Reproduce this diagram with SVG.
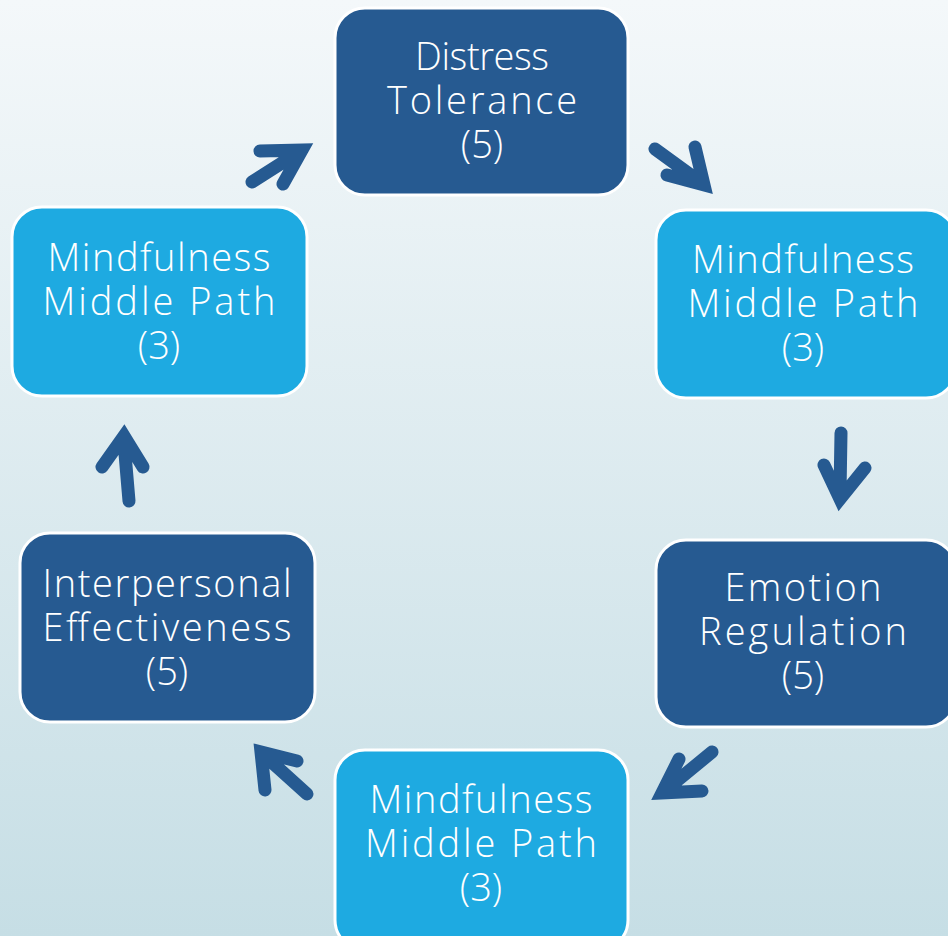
<svg xmlns="http://www.w3.org/2000/svg" width="948" height="936" viewBox="0 0 948 936">
<defs>
<linearGradient id="bg" x1="0" y1="0" x2="0" y2="1">
<stop offset="0" stop-color="#F4F8FA"/>
<stop offset="1" stop-color="#C6DEE5"/>
</linearGradient>
<style>
.dark{fill:#265A91;stroke:#FFFFFF;stroke-width:3}
.light{fill:#1EAAE1;stroke:#FFFFFF;stroke-width:3}
.t{font-family:"Open Sans","DejaVu Sans",sans-serif;font-weight:300;font-size:38px;fill:#FFFFFF;text-anchor:middle}
.arr{fill:none;stroke:#265A91;stroke-width:13;stroke-linecap:round;stroke-linejoin:miter;stroke-miterlimit:10}
</style>
</defs>
<rect width="948" height="936" fill="url(#bg)"/>
<g id="connectors">
<path class="arr" d="M252 182 L296 154 M260 151 L302 150 L283 184"/>
<path class="arr" d="M655 149 L699 181 M695 147 L704 185 L667 175"/>
<path class="arr" d="M841 433 L840 493 M824 465 L840 499 L865 468"/>
<path class="arr" d="M712 752 L667 789 M679 759 L662 793 L702 791"/>
<path class="arr" d="M307 794 L266 757 M297 761 L261 752 L265 790"/>
<path class="arr" d="M129 501 L124 442 M102 467 L124 436 L143 467"/>
</g>
<g id="distress">
<rect class="dark" x="335" y="8" width="293" height="187" rx="30"/>
<text class="t" x="482" y="70" textLength="134" lengthAdjust="spacing">Distress</text>
<text class="t" x="482" y="114" textLength="190" lengthAdjust="spacing">Tolerance</text>
<text class="t" x="482" y="158">(5)</text>
</g>
<g id="mind-right">
<rect class="light" x="656" y="210" width="300" height="188" rx="30"/>
<text class="t" x="803" y="273" textLength="222" lengthAdjust="spacing">Mindfulness</text>
<text class="t" x="803" y="317" textLength="231" lengthAdjust="spacing">Middle Path</text>
<text class="t" x="803" y="361">(3)</text>
</g>
<g id="emotion">
<rect class="dark" x="656" y="540" width="300" height="187" rx="30"/>
<text class="t" x="803" y="601" textLength="157" lengthAdjust="spacing">Emotion</text>
<text class="t" x="803" y="645" textLength="208" lengthAdjust="spacing">Regulation</text>
<text class="t" x="803" y="689">(5)</text>
</g>
<g id="mind-bottom">
<rect class="light" x="335" y="750" width="293" height="200" rx="30"/>
<text class="t" x="481" y="813" textLength="223" lengthAdjust="spacing">Mindfulness</text>
<text class="t" x="481" y="857" textLength="232" lengthAdjust="spacing">Middle Path</text>
<text class="t" x="481" y="901">(3)</text>
</g>
<g id="interpersonal">
<rect class="dark" x="20" y="533" width="295" height="189" rx="30"/>
<text class="t" x="167" y="597" textLength="249" lengthAdjust="spacing">Interpersonal</text>
<text class="t" x="167" y="641" textLength="249" lengthAdjust="spacing">Effectiveness</text>
<text class="t" x="167" y="685">(5)</text>
</g>
<g id="mind-left">
<rect class="light" x="12" y="207" width="295" height="189" rx="30"/>
<text class="t" x="159" y="271" textLength="223" lengthAdjust="spacing">Mindfulness</text>
<text class="t" x="159" y="315" textLength="233" lengthAdjust="spacing">Middle Path</text>
<text class="t" x="159" y="359">(3)</text>
</g>
</svg>
